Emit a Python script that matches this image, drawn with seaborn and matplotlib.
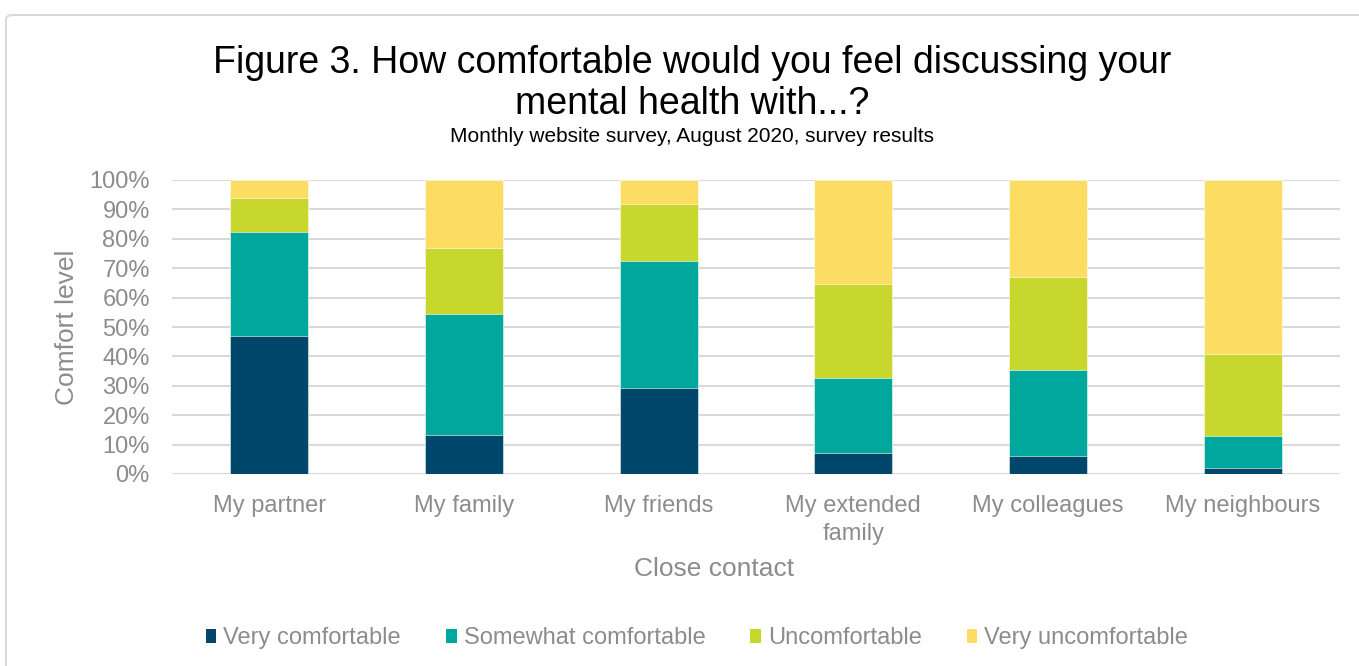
import matplotlib
matplotlib.use("Agg")
import matplotlib.pyplot as plt
from matplotlib.patches import Patch, FancyBboxPatch
from matplotlib.ticker import FuncFormatter
import numpy as np
import pandas as pd
import seaborn as sns

# Survey data (percent of respondents)
contacts = ["My partner", "My family", "My friends", "My extended\nfamily",
            "My colleagues", "My neighbours"]
levels = ["Very comfortable", "Somewhat comfortable", "Uncomfortable",
          "Very uncomfortable"]
very_comfortable = [46.9, 13.1, 29.1, 7.1, 6.2, 1.9]
somewhat_comfortable = [35.3, 41.3, 43.5, 25.5, 29.2, 11.0]
uncomfortable = [11.8, 22.6, 19.2, 32.1, 31.6, 27.9]
very_uncomfortable = [6.0, 23.0, 8.2, 35.3, 33.0, 59.2]

colors = ["#00476B", "#00A79D", "#C8D72E", "#FDDC63"]
grey = "#8C8C8C"

sns.set_theme(style="white")
plt.rcParams["font.family"] = ["Liberation Sans", "DejaVu Sans"]

df = pd.DataFrame({
    "contact": contacts,
    levels[0]: very_comfortable,
    levels[1]: somewhat_comfortable,
    levels[2]: uncomfortable,
    levels[3]: very_uncomfortable,
})
# cumulative tops for stacking
cum = df[levels].cumsum(axis=1)

fig = plt.figure(figsize=(13.59, 6.66), dpi=100)
ax = fig.add_axes([172 / 1359, 1 - 474 / 666, 1168 / 1359, 294 / 666])

# chart area border
fig.patches.append(FancyBboxPatch((6 / 1359, -0.05), 1.05, 1 - 15 / 666 + 0.05,
                                  boxstyle="round,pad=0,rounding_size=0.006",
                                  transform=fig.transFigure, fill=False,
                                  edgecolor="#D9D9D9", linewidth=1.5, zorder=0))

# draw stacked bars from the tallest cumulative layer down
for i in range(len(levels) - 1, -1, -1):
    sns.barplot(x=df["contact"], y=cum[levels[i]], color=colors[i], width=0.4,
                saturation=1, edgecolor="white", linewidth=0.4, ax=ax, zorder=3)

ax.set_ylim(0, 100)
ax.set_xlim(-0.5, 5.5)
ax.set_yticks(np.arange(0, 101, 10))
ax.yaxis.set_major_formatter(FuncFormatter(lambda v, _: f"{v:.0f}%"))
ax.yaxis.grid(True, color="#D9D9D9", linewidth=1.5, zorder=0)
ax.set_axisbelow(True)
for s in ax.spines.values():
    s.set_visible(False)
ax.tick_params(axis="both", length=0, labelsize=17, labelcolor=grey)
ax.tick_params(axis="y", pad=16)
ax.tick_params(axis="x", pad=15)
for lab in ax.get_xticklabels():
    lab.set_linespacing(1.34)

ax.set_xlabel("Close contact", fontsize=19, color=grey)
ax.set_ylabel("Comfort level", fontsize=19, color=grey)
ax.xaxis.set_label_coords(0.464, -0.282)
ax.yaxis.set_label_coords(-0.08, 0.5)

fig.text(692 / 1359, 1 - 73 / 666,
         "Figure 3. How comfortable would you feel discussing your",
         ha="center", va="baseline", fontsize=27, color="black")
fig.text(692 / 1359, 1 - 114 / 666, "mental health with...?",
         ha="center", va="baseline", fontsize=27, color="black")
fig.text(692 / 1359, 1 - 142 / 666,
         "Monthly website survey, August 2020, survey results",
         ha="center", va="baseline", fontsize=15, color="black")

handles = [Patch(facecolor=c, edgecolor="none", label=l)
           for c, l in zip(colors, levels)]
fig.legend(handles=handles, loc="center", bbox_to_anchor=(697 / 1359, 1 - 638 / 666),
           ncol=4, frameon=False, fontsize=17, labelcolor=grey,
           handlelength=0.45, handleheight=0.55, handletextpad=0.3,
           columnspacing=1.9)

fig.savefig("out.png", dpi=100)
